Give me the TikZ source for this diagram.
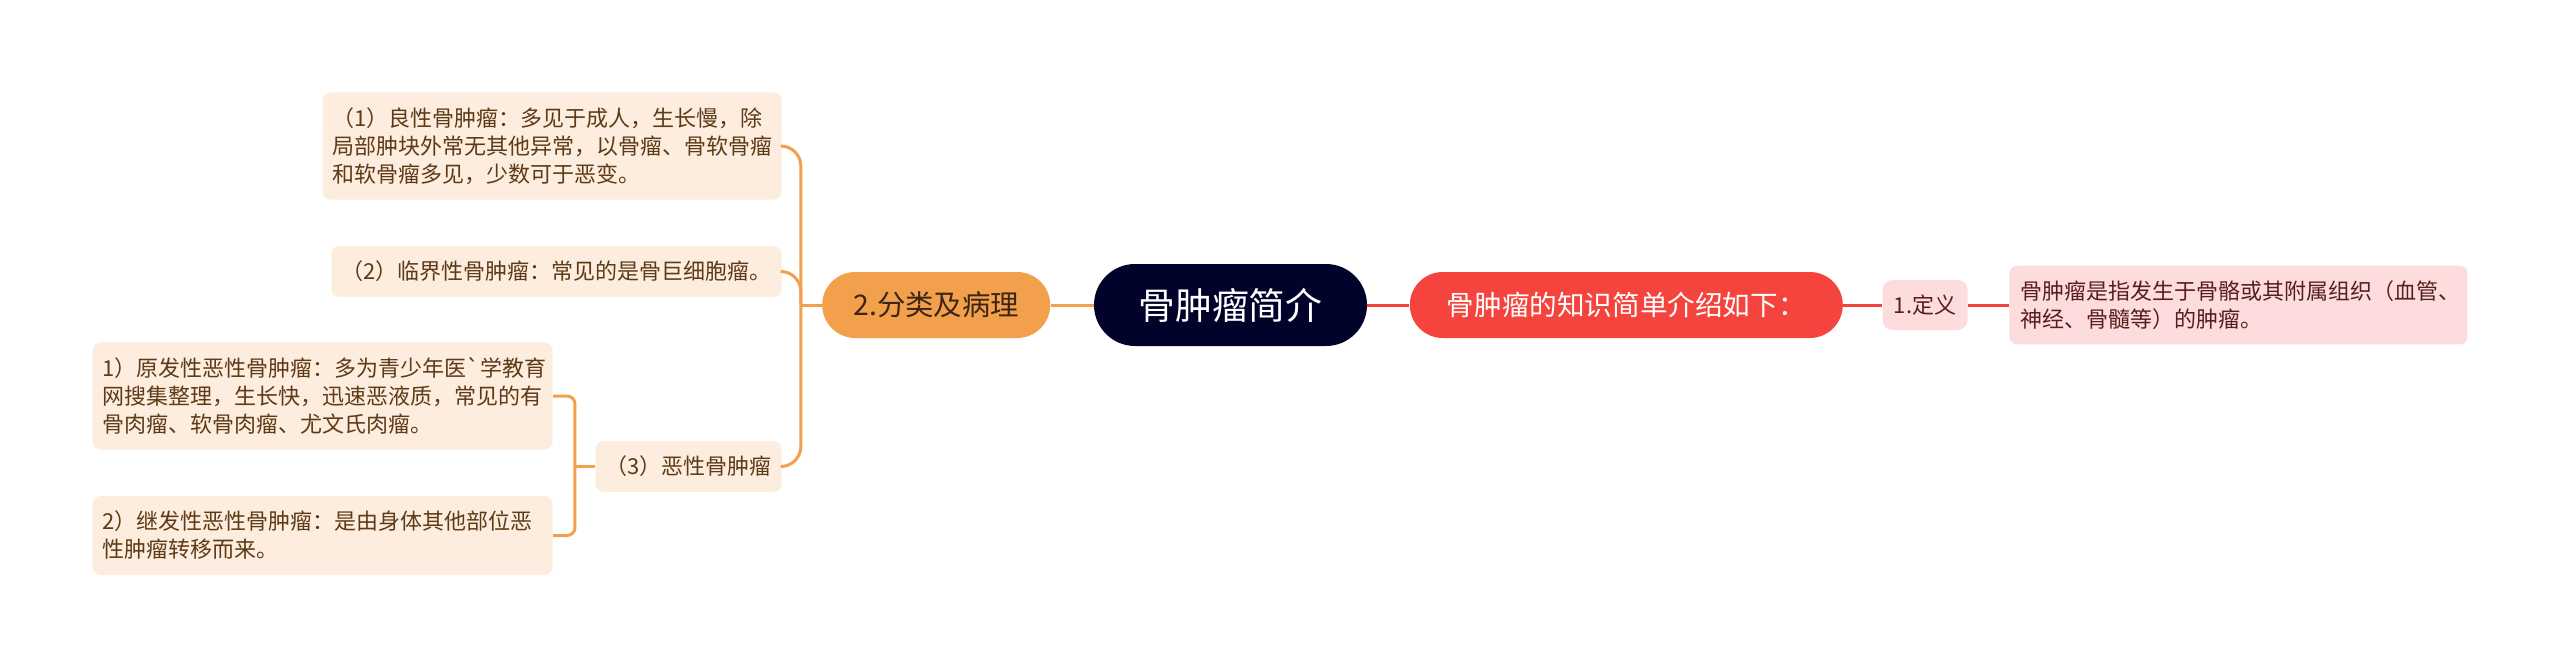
\documentclass[tikz,border=0pt]{standalone}
\usepackage{fontspec}
\setmainfont{Noto Sans CJK SC}
\usepackage{tikz}
\usetikzlibrary{positioning}

\definecolor{navyc}{HTML}{02032B}
\definecolor{orangec}{HTML}{F3A04C}
\definecolor{redc}{HTML}{F4443D}
\definecolor{leafbg}{HTML}{FDEDDF}
\definecolor{leaftext}{HTML}{5E3A16}
\definecolor{pinkbg}{HTML}{FCDCDC}
\definecolor{pinktext}{HTML}{5A1E1E}
\definecolor{clstext}{HTML}{3A2612}

\begin{document}
\begin{tikzpicture}[x=1pt, y=-1pt,
    root/.style = {fill=navyc, text=white, rounded corners=20.5pt, minimum width=136.5pt, minimum height=41pt, inner sep=0pt, font=\fontsize{18.4}{22}\selectfont},
    topic/.style = {rounded corners=16.5pt, minimum height=33pt, inner sep=0pt},
    leaf/.style = {fill=leafbg, text=leaftext, rounded corners=4pt, align=left, inner xsep=5pt, inner ysep=7.5pt, font=\fontsize{11}{14}\selectfont},
    pinkleaf/.style = {leaf, fill=pinkbg, text=pinktext},
    orline/.style = {draw=orangec, line width=1.5pt},
    redline/.style = {draw=redc, line width=1.5pt}]
    \useasboundingbox (0,0) rectangle (1280,334.5);

    \node[root] (root) at (615.25,152.5) {骨肿瘤简介};
    \node[topic, fill=orangec, text=clstext, minimum width=114pt, font=\fontsize{14.2}{17}\selectfont, left=21.5pt of root] (cls) {2.分类及病理};
    \node[topic, fill=redc, text=white, minimum width=216.5pt, font=\fontsize{13.8}{17}\selectfont, right=21pt of root] (intro) {骨肿瘤的知识简单介绍如下：};
    \node[pinkleaf, rounded corners=5pt, minimum width=42.5pt, minimum height=25pt, inner sep=0pt, right=19.5pt of intro] (def) {1.定义};
    \node[pinkleaf, text width=218pt, inner xsep=5.5pt, right=20.5pt of def] (defn) {骨肿瘤是指发生于骨骼或其附属组织（血管、\\神经、骨髓等）的肿瘤。};

    \node[leaf, anchor=east, text width=219.5pt] (benign) at (391,73) {（1）良性骨肿瘤：多见于成人，生长慢，除\\局部肿块外常无其他异常，以骨瘤、骨软骨瘤\\和软骨瘤多见，少数可于恶变。};
    \node[leaf, anchor=east] (border) at (391,135.75) {（2）临界性骨肿瘤：常见的是骨巨细胞瘤。};
    \node[leaf, anchor=east] (malig) at (391,233.25) {（3）恶性骨肿瘤};
    \node[leaf, anchor=east, text width=220pt] (prim) at (276.5,198) {1）原发性恶性骨肿瘤：多为青少年医\textasciigrave 学教育\\网搜集整理，生长快，迅速恶液质，常见的有\\骨肉瘤、软骨肉瘤、尤文氏肉瘤。};
    \node[leaf, anchor=east, text width=220pt] (sec) at (276.5,267.75) {2）继发性恶性骨肿瘤：是由身体其他部位恶\\性肿瘤转移而来。};

    \draw[orline] (root.west) -- (cls.east);
    \draw[redline] (root.east) -- (intro.west);
    \draw[redline] (intro.east) -- (def.west);
    \draw[redline] (def.east) -- (defn.west);

    \coordinate (clsj) at ([xshift=-10.5pt]cls.west);
    \draw[orline] (cls.west) -- (clsj);
    \draw[orline, rounded corners=10pt] (clsj) |- (benign.east);
    \draw[orline, rounded corners=10pt] (clsj) |- (border.east);
    \draw[orline, rounded corners=10pt] (clsj) |- (malig.east);

    \coordinate (maligj) at ([xshift=-10pt]malig.west);
    \draw[orline] (malig.west) -- (maligj);
    \draw[orline, rounded corners=4pt] (maligj) |- (prim.east);
    \draw[orline, rounded corners=4pt] (maligj) |- (sec.east);
\end{tikzpicture}
\end{document}
